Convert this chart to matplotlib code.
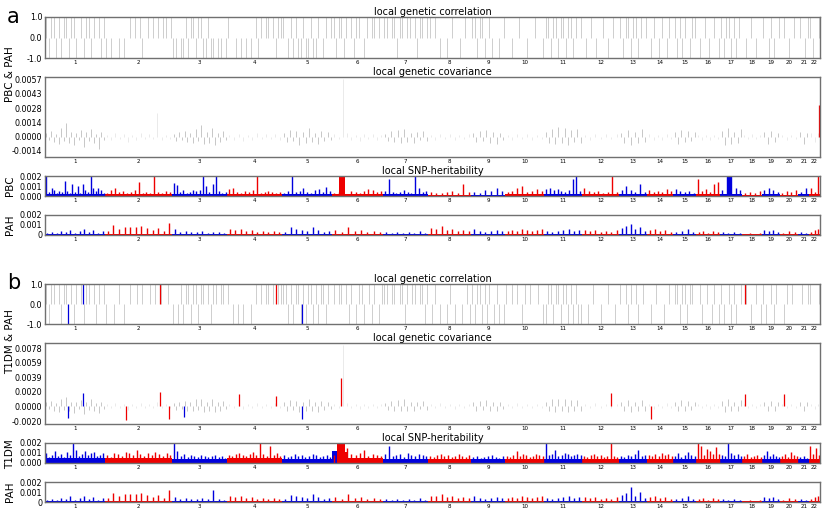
import matplotlib
matplotlib.use('Agg')
import matplotlib.pyplot as plt
import numpy as np

OUTPUT_FILENAME = 'out.png'

CHROMS = list(range(1, 23))
# number of LAVA loci per chromosome (x axis = locus index)
CHROM_LOCI = [193, 216, 177, 177, 161, 164, 145, 138, 109, 126, 122,
              119, 90, 84, 74, 77, 71, 64, 58, 58, 35, 35]

BLUE = '#0000dd'
RED = '#ee0000'
GREY_CORR = '#c6c6c6'
GREY_ODD = '#a8a8a8'
GREY_EVEN = '#dedede'

# ---------------- local genetic correlation (rho per locus bin, 0 = none) ----
corr_a = [
    [1, -1, 1, 1, -1, 1, -1, 1, 1, -1, 1, 1, -1, 0, 1, -1, 1, 1, -1, 1, 0, 1, -1, 1],
    [-1, 0, -1, 0, 0, -1, 0, -1, 0, 1, 0, 1, 0, 1, -1, 0, 1, 0, 1, 0, 1, 0, 1, 1, 0, 1],
    [-1, -1, 0, -1, -1, 1, -1, 1, 1, -1, 1, 1, -1, -1, 1, -1, -1, 0, -1, -1, 0, -1],
    [1, 0, 0, -1, 0, -1, 0, -1, 0, -1, 0, 1, -1, 1, 0, 1, 1, 0, 1, -1, 1, 1],
    [1, 0, -1, 1, -1, 1, -1, -1, 1, -1, -1, 1, -1, -1, 1, 0, -1, 1, 0, 1],
    [1, -1, 1, 1, -1, 1, 0, 1, -1, 1, 1, 0, -1, 1, 0, 1, 1, 0, 1, 0],
    [1, 1, 0, 1, 1, -1, 1, 1, 0, 1, 1, 0, 1, -1, 1, 1, 0, 1],
    [1, 0, 1, 0, -1, 0, 0, -1, 0, 1, 0, 0, -1, 0, 1, 0, 0],
    [1, 1, -1, 1, 1, -1, 0, 1, -1, 0, 0, -1, 0, 1],
    [0, 0, -1, 0, 0, 1, 0, 0, -1, 0, 0, 1, 0, 0, -1],
    [1, 1, -1, 1, 1, -1, 1, 1, -1, 1, 1, -1, 1, 0, 1],
    [0, -1, 0, 1, 0, -1, 0, 0, 1, 0, -1, 0, 1, 0, 0],
    [1, -1, 1, 1, -1, 1, 1, -1, 1, 0, 1],
    [0, -1, 1, 0, -1, 1, 0, -1, 1, 0],
    [1, -1, 1, -1, 1, 0, -1, 1, 1],
    [0, -1, 0, 1, 0, -1, 0, 1, 0, -1],
    [1, -1, 1, 1, -1, 1, -1, 1, 0],
    [0, -1, 0, 1, 0, -1, 0, 0],
    [1, 0, -1, 1, -1, 0, 1],
    [0, 1, 0, -1, 0, 1, 0],
    [1, 0, -1, 1],
    [1, -1, 0, 1],
]
corr_b = [
    [1, -1, 1, 1, 0, 1, -1, 1, 1, 0, 1, -1, 1, 0, 1, -1, 1, 1, 0, 1, -1, 1, 0, 1],
    [-1, 0, 0, -1, 0, 1, 0, -1, 0, 1, 0, 0, 1, 0, 1, 0, 0, 1, 0, 1, 0, 1, 0, 0, 1, 0],
    [-1, 0, -1, 1, -1, 1, 1, -1, 1, 1, -1, 1, 1, 0, 1, -1, 1, 1, 0, 1, 1, 0],
    [1, 0, -1, 0, -1, 0, -1, 0, 0, -1, 0, 1, 0, 1, 0, 1, 1, 0, 1, 0, 1, 1],
    [1, 1, -1, 1, -1, 1, 1, -1, 1, -1, 1, 1, -1, 1, -1, 1, 1, -1, 1, 0],
    [1, 0, 1, 1, 0, 1, -1, 1, 0, -1, 1, 1, -1, 0, 1, -1, 1, 0, -1, 1],
    [1, 1, 0, 1, 1, 0, 1, 1, -1, 1, 0, 1, 1, 0, 1, 1, -1, 1],
    [0, -1, 1, 0, -1, 0, 0, -1, 1, 0, -1, 0, 0, -1, 0, 1, -1],
    [1, -1, 1, 1, -1, 1, -1, 1, 0, -1, 1, -1, 0, -1],
    [1, 0, 1, 0, 1, 0, -1, 1, 0, 1, 0, 0, 1, 0, -1],
    [-1, 1, 1, -1, 1, 1, -1, 1, 1, -1, 1, -1, 1, -1, -1],
    [0, 0, -1, 0, 1, 0, 0, -1, 0, 0, 1, 0, 0, -1, 0],
    [1, 0, 1, -1, 1, 0, 1, -1, 0, 1, 0],
    [0, -1, 0, 1, 0, 0, -1, 0, 1, 0],
    [1, 1, -1, 1, 1, -1, 1, 1, 0],
    [0, 1, -1, 0, 1, 0, -1, 1, 0, -1],
    [1, -1, 0, 1, -1, 1, -1, 0, 1],
    [0, 1, 0, -1, 0, 1, 0, -1],
    [1, -1, 0, 1, -1, 1, 0],
    [0, -1, 1, 0, 1, 0, 0],
    [0, 1, 0, 1],
    [1, 0, 0, 1],
]
sig_corr_b_locus = [74, 122, 370, 743, 827, 2252]
sig_corr_b_rho = [-1.0, 1.0, 1.0, 1.0, -1.0, 1.0]

# ---------------- local genetic covariance (units of 1e-4) -------------------
cov_a = [
    [4, -3, 6, -5, 3, -7, 9, -4, 14, -6, 5, -8, 4, -3, 7, -10, 5, -4, 8, -6, 3, -12, 5, -3],
    [2, -3, 4, -2, 3, -5, 2, -3, 4, -2, 3, -2, 23, -3, 2, -2],
    [3, -4, 5, -3, 6, -5, 4, -6, 8, -4, 12, -7, 5, -6, 9, -8, 4, -5, 6, -3],
    [2, -3, 3, -4, 2, -3, 4, -2, 3, -2, 3, -3],
    [4, -5, 7, -4, 6, -8, 5, -6, 9, -5, 4, -7, 6, -4, 5, -3],
    [3, -2, 57, 4, -3, 2, -4, 3, -2, 3, -3, 2],
    [3, -4, 6, -5, 7, -6, 8, -5, 4, -6, 5, -3, 6, -4],
    [2, -3, 3, -2, 3, -3, 2, -2, 3],
    [4, -5, 6, -4, 7, -6, 5, -7, 4, -3],
    [2, -3, 3, -2, 3, -3, 2, -2],
    [5, -6, 8, -7, 10, -6, 9, -8, 7, -5, 8, -6],
    [2, -3, 3, -2, 3, -2, 3],
    [4, -6, 7, -8, 5, -6, 8, -5],
    [3, -3, 2, -3, 3, -2],
    [5, -7, 7, -5, 6, -4, 5],
    [2, -3, 2, -3, 2, -2],
    [6, -8, 9, -7, 5, -6, 8],
    [2, -2, 3, -2, 2],
    [5, -7, 6, -5, 4],
    [2, -3, 2, -2],
    [5, -7, 4],
    [4, -5, 4],
]
cov_b = [
    [5, -4, 7, -6, 4, -8, 10, -5, 12, -7, 6, -9, 5, -4, 8, -10, 6, -5, 9, -7, 4, -9, 6, -4],
    [3, -3, 4, -3, 3, -5, 3, -3, 4, -3, 3, -3, 5, -3, 3, -3],
    [4, -5, 6, -4, 7, -6, 5, -7, 9, -5, 10, -8, 6, -7, 9, -8, 5, -6, 7, -4],
    [3, -3, 4, -4, 3, -3, 4, -3, 3, -3, 4, -3],
    [5, -6, 8, -5, 7, -8, 6, -7, 9, -6, 5, -8, 7, -5, 6, -4],
    [3, -3, 82, 4, -3, 3, -4, 3, -3, 3, -3, 3],
    [4, -5, 7, -6, 8, -7, 9, -6, 5, -7, 6, -4, 7, -5],
    [3, -3, 4, -3, 3, -4, 3, -3, 3],
    [5, -6, 7, -5, 8, -7, 6, -7, 5, -4],
    [3, -3, 4, -3, 3, -3, 3, -3],
    [6, -7, 9, -8, 10, -7, 9, -8, 8, -6, 8, -7],
    [3, -3, 4, -3, 3, -3, 3],
    [5, -7, 8, -8, 6, -7, 8, -6],
    [3, -4, 3, -3, 4, -3],
    [6, -7, 8, -6, 7, -5, 6],
    [3, -3, 3, -4, 3, -3],
    [7, -8, 9, -7, 6, -7, 8],
    [3, -3, 3, -3, 3],
    [6, -7, 7, -6, 5],
    [3, -3, 3, -3],
    [6, -7, 5],
    [3, -4, 3],
]
sig_cov_a_locus = [2489]
sig_cov_a_val = [31]
sig_cov_b_locus = [74, 122, 260, 370, 399, 447, 624, 743, 827, 952,
                   1821, 1950, 2252, 2377]
sig_cov_b_val = [-16, 18, -19, 19, -17, -14, 17, 14, -17, 38,
                 18, -17, 17, 17]

# ---------------- local SNP-heritability (units of 1e-4) ---------------------
pbc_h2 = [
    [20, 4, 8, 6, 3, 5, 4, 15, 5, 3, 12, 4, 10, 3, 12, 6, 4, 20, 8, 5, 8, 6, 3],
    [3, 6, 8, 4, 5, 3, 4, 6, 14, 3, 4, 3, 20, 4, 3, 5, 4],
    [13, 11, 4, 6, 3, 4, 6, 5, 6, 20, 10, 4, 12, 20, 5, 3, 4],
    [7, 8, 4, 3, 5, 4, 6, 20, 3, 4, 5, 4, 3, 4],
    [3, 5, 20, 4, 5, 8, 4, 3, 6, 7, 4, 9, 5],
    [3, 4, 3, 2, 5, 4, 3, 5, 7, 6, 4, 5],
    [5, 17, 4, 3, 4, 6, 4, 3, 20, 8, 4, 5],
    [4, 3, 3, 4, 5, 3, 12, 4],
    [4, 3, 6, 5, 8, 5],
    [4, 5, 8, 10, 4, 5, 7, 5],
    [7, 8, 6, 7, 5, 4, 6, 17, 20, 5],
    [8, 5, 4, 5, 3, 4, 20, 4],
    [6, 10, 6, 4, 12, 4],
    [6, 4, 5, 4, 7, 5],
    [7, 5, 4, 5, 3],
    [17, 5, 7, 4, 12, 14],
    [6, 20, 20, 8, 6],
    [3, 4, 3, 5],
    [6, 8, 6, 4],
    [3, 5, 4, 6],
    [4, 8],
    [8, 4, 20],
]
pbc_h2_base = [2, 2, 2, 2, 2, 2, 2, 1.5, 1.5, 2, 2, 2, 2, 2, 2, 2, 2, 1.5, 2, 1.5, 2, 2]
pbc_block_start = [946, 2197]
pbc_block_end = [966, 2210]
pbc_block_val = [20, 20]

t1dm_h2 = [
    [10, 6, 8, 12, 7, 9, 6, 11, 8, 20, 13, 7, 9, 12, 8, 10, 11, 7, 8, 10],
    [8, 6, 10, 9, 7, 11, 10, 8, 13, 9, 7, 10, 8, 11, 9, 7, 10, 8],
    [20, 12, 7, 9, 6, 8, 7, 6, 8, 7, 6, 7, 8, 6, 7, 5],
    [8, 7, 9, 10, 8, 7, 9, 11, 8, 20, 9, 7, 17, 8, 10, 7],
    [8, 6, 7, 9, 7, 8, 6, 7, 9, 8, 6, 7, 8, 6],
    [8, 10, 7, 15, 9, 8, 10, 13, 7, 9, 8, 7],
    [9, 17, 7, 8, 9, 6, 10, 8, 7, 9, 8, 7],
    [7, 6, 8, 9, 7, 8, 6, 7, 9, 7, 6, 8],
    [6, 7, 5, 6, 7, 8, 6, 5, 7],
    [7, 6, 8, 12, 7, 9, 8, 6, 7, 9, 8, 7],
    [20, 8, 9, 13, 7, 8, 10, 9, 7, 8, 9, 8],
    [7, 6, 8, 9, 7, 8, 6, 7, 20, 7, 6],
    [7, 6, 8, 7, 9, 13, 7, 8],
    [8, 7, 9, 7, 10, 8, 9, 7],
    [7, 10, 6, 8, 11, 8, 7],
    [20, 17, 8, 14, 12, 9, 16, 9],
    [8, 7, 20, 10, 8, 9, 7],
    [7, 9, 6, 7, 8, 6],
    [8, 12, 7, 9, 7, 6],
    [7, 9, 6, 11, 8, 7],
    [6, 7, 5],
    [17, 9, 15, 8],
]
t1dm_h2_base = [5, 5, 4.5, 5, 4.5, 5, 4.5, 4.5, 4, 4.5, 4.5, 4.5, 4.5, 4.5, 4, 4.5, 4, 4, 4, 4, 4, 4.5]
t1dm_block_start = [923, 939, 966]
t1dm_block_end = [939, 966, 975]
t1dm_block_val = [12, 20, 11]

pah_h2_a = [
    [2, 3, 2, 4, 3, 5, 2, 4, 6, 3, 5, 2, 4],
    [4, 10, 6, 8, 8, 8, 9, 7, 5, 7, 4, 12],
    [6, 3, 4, 3, 3, 4, 2, 3, 3, 2],
    [6, 5, 6, 4, 5, 3, 4, 3, 4, 3],
    [3, 8, 6, 5, 4, 8, 5, 3, 4],
    [5, 3, 8, 4, 5, 3, 4, 3],
    [3, 2, 3, 2, 3, 2, 4, 2],
    [7, 6, 9, 5, 6, 4, 5, 4],
    [6, 4, 3, 4, 5, 4],
    [4, 5, 4, 6, 5, 4, 5, 6],
    [4, 3, 4, 5, 6, 4, 5],
    [5, 4, 5, 3, 4, 3, 5],
    [7, 9, 11, 6, 8, 4],
    [5, 6, 4, 5, 3],
    [3, 4, 6, 3],
    [3, 4, 2, 4, 3],
    [3, 2, 3, 2],
    [1, 2, 1, 2],
    [5, 4, 5, 3],
    [2, 4, 3],
    [3, 2],
    [3, 5, 6],
]
pah_h2_b = [
    [2, 3, 2, 4, 3, 6, 2, 4, 6, 3, 5, 2, 4],
    [4, 9, 6, 8, 8, 8, 9, 7, 5, 7, 4, 12],
    [5, 3, 4, 3, 3, 4, 3, 12, 3, 2],
    [6, 5, 6, 4, 5, 3, 4, 3, 4, 3],
    [3, 7, 6, 5, 4, 8, 5, 3, 4],
    [5, 3, 8, 4, 5, 3, 4, 3],
    [3, 2, 3, 2, 3, 2, 4, 2],
    [6, 6, 8, 5, 6, 4, 5, 4],
    [6, 4, 3, 4, 5, 4],
    [4, 5, 4, 6, 5, 4, 5, 6],
    [4, 3, 4, 5, 6, 4, 5],
    [5, 4, 5, 3, 4, 3, 5],
    [7, 9, 15, 6, 10, 4],
    [5, 6, 4, 5, 3],
    [3, 4, 6, 3],
    [3, 4, 2, 4, 3],
    [3, 2, 3, 2],
    [1, 2, 1, 2],
    [5, 4, 5, 3],
    [2, 4, 3],
    [3, 2],
    [3, 5, 6],
]
pah_h2_base = [0.6] * 22

UNIT = 1e-4

W, H = 825, 518
LEFT, RIGHT = 45, 820

chrom_start = np.concatenate([[0], np.cumsum(CHROM_LOCI)[:-1]])
chrom_mid = chrom_start + np.array(CHROM_LOCI) / 2.0
n_total = int(np.sum(CHROM_LOCI))


def chrom_color(i, grey=False):
    if grey:
        return GREY_ODD if i % 2 == 0 else GREY_EVEN
    return BLUE if i % 2 == 0 else RED


def chrom_of(locus):
    return int(np.searchsorted(np.cumsum(CHROM_LOCI), locus, side='right'))


def spread(per_chrom):
    xs, vs, cs = [], [], []
    for i, vals in enumerate(per_chrom):
        n = len(vals)
        for j, v in enumerate(vals):
            xs.append(chrom_start[i] + (j + 0.5) / n * CHROM_LOCI[i])
            vs.append(v)
            cs.append(i)
    return np.array(xs), np.array(vs, dtype=float), cs


def add_ax(fig, top, bottom):
    ax = fig.add_axes([LEFT / W, 1 - bottom / H, (RIGHT - LEFT) / W, (bottom - top) / H])
    ax.set_xlim(0, n_total)
    ax.set_xticks(chrom_mid)
    ax.set_xticklabels([str(c) for c in CHROMS], fontsize=4)
    ax.tick_params(axis='x', length=0, pad=1.5)
    ax.tick_params(axis='y', length=0, pad=2, labelsize=5.8)
    for s in ax.spines.values():
        s.set_color('#707070')
        s.set_linewidth(1.0)
    return ax


def plot_corr(ax, grid, sig_locus, sig_rho):
    xs, vs, cs = spread(grid)
    keep = vs != 0
    ax.vlines(xs[keep], 0, vs[keep], colors=GREY_CORR, linewidth=0.6)
    for loc, r in zip(sig_locus, sig_rho):
        ax.vlines(loc, 0, r, colors=chrom_color(chrom_of(loc)), linewidth=0.9)
    ax.set_ylim(-1, 1)
    ax.set_yticks([-1, 0, 1])
    ax.set_yticklabels(['-1.0', '0.0', '1.0'])
    ax.set_title('local genetic correlation', fontsize=7, pad=1.5)


def plot_cov(ax, grid, sig_locus, sig_val, ticks, ylim):
    xs, vs, cs = spread(grid)
    cols = [chrom_color(c, grey=True) for c in cs]
    ax.vlines(xs, 0, vs * UNIT, colors=cols, linewidth=0.6, alpha=0.75)
    for loc, v in zip(sig_locus, sig_val):
        ax.vlines(loc, 0, v * UNIT, colors=chrom_color(chrom_of(loc)), linewidth=0.9)
    ax.set_ylim(*ylim)
    ax.set_yticks(ticks)
    ax.set_yticklabels(['%.4f' % t for t in ticks])
    ax.set_title('local genetic covariance', fontsize=7, pad=1.5)


def plot_h2(ax, grid, base, blocks, labels, title=None):
    for i in range(len(CHROMS)):
        ax.bar(chrom_start[i], base[i] * UNIT, width=CHROM_LOCI[i], align='edge',
               color=chrom_color(i), linewidth=0)
    xs, vs, cs = spread(grid)
    ax.vlines(xs, 0, vs * UNIT, colors=[chrom_color(c) for c in cs], linewidth=1.0)
    for s, e, v in zip(*blocks):
        ax.bar(s, v * UNIT, width=e - s, align='edge', color=chrom_color(chrom_of(s)), linewidth=0)
    ax.set_ylim(0, 0.002)
    ax.set_yticks([0, 0.001, 0.002])
    ax.set_yticklabels(labels)
    if title:
        ax.set_title(title, fontsize=7, pad=1.5)


def main():
    fig = plt.figure(figsize=(W / 100, H / 100), dpi=100, facecolor='white')
    lab3 = ['0.000', '0.001', '0.002']
    lab1 = ['0', '0.001', '0.002']

    # panel a
    ax = add_ax(fig, 17, 58)
    plot_corr(ax, corr_a, [], [])
    ax = add_ax(fig, 77, 157)
    plot_cov(ax, cov_a, sig_cov_a_locus, sig_cov_a_val,
             [-0.0014, 0.0, 0.0014, 0.0028, 0.0043, 0.0057], (-0.0020, 0.0059))
    ax = add_ax(fig, 176, 196)
    plot_h2(ax, pbc_h2, pbc_h2_base, (pbc_block_start, pbc_block_end, pbc_block_val),
            lab3, 'local SNP-heritability')
    ax = add_ax(fig, 215, 235)
    plot_h2(ax, pah_h2_a, pah_h2_base, ([], [], []), lab1)

    # panel b
    ax = add_ax(fig, 284, 324)
    plot_corr(ax, corr_b, sig_corr_b_locus, sig_corr_b_rho)
    ax = add_ax(fig, 343, 424)
    plot_cov(ax, cov_b, sig_cov_b_locus, sig_cov_b_val,
             [-0.0020, 0.0, 0.0020, 0.0039, 0.0059, 0.0078], (-0.0024, 0.0085))
    ax = add_ax(fig, 443, 463)
    plot_h2(ax, t1dm_h2, t1dm_h2_base, (t1dm_block_start, t1dm_block_end, t1dm_block_val),
            lab3, 'local SNP-heritability')
    ax = add_ax(fig, 482, 502)
    plot_h2(ax, pah_h2_b, pah_h2_base, ([], [], []), lab1)

    # labels
    fig.text(7 / W, 1 - 17 / H, 'a', fontsize=15, ha='left', va='center')
    fig.text(7 / W, 1 - 283 / H, 'b', fontsize=15, ha='left', va='center')
    ylab = dict(rotation=90, ha='center', va='center', fontsize=7.5)
    fig.text(10 / W, 1 - 74 / H, 'PBC & PAH', **ylab)
    fig.text(10 / W, 1 - 186 / H, 'PBC', **ylab)
    fig.text(10 / W, 1 - 225 / H, 'PAH', **ylab)
    fig.text(10 / W, 1 - 342 / H, 'T1DM & PAH', **ylab)
    fig.text(10 / W, 1 - 454 / H, 'T1DM', **ylab)
    fig.text(10 / W, 1 - 492 / H, 'PAH', **ylab)

    fig.savefig(OUTPUT_FILENAME, dpi=100, facecolor=fig.get_facecolor())
    plt.close('all')


if __name__ == "__main__":
    main()
